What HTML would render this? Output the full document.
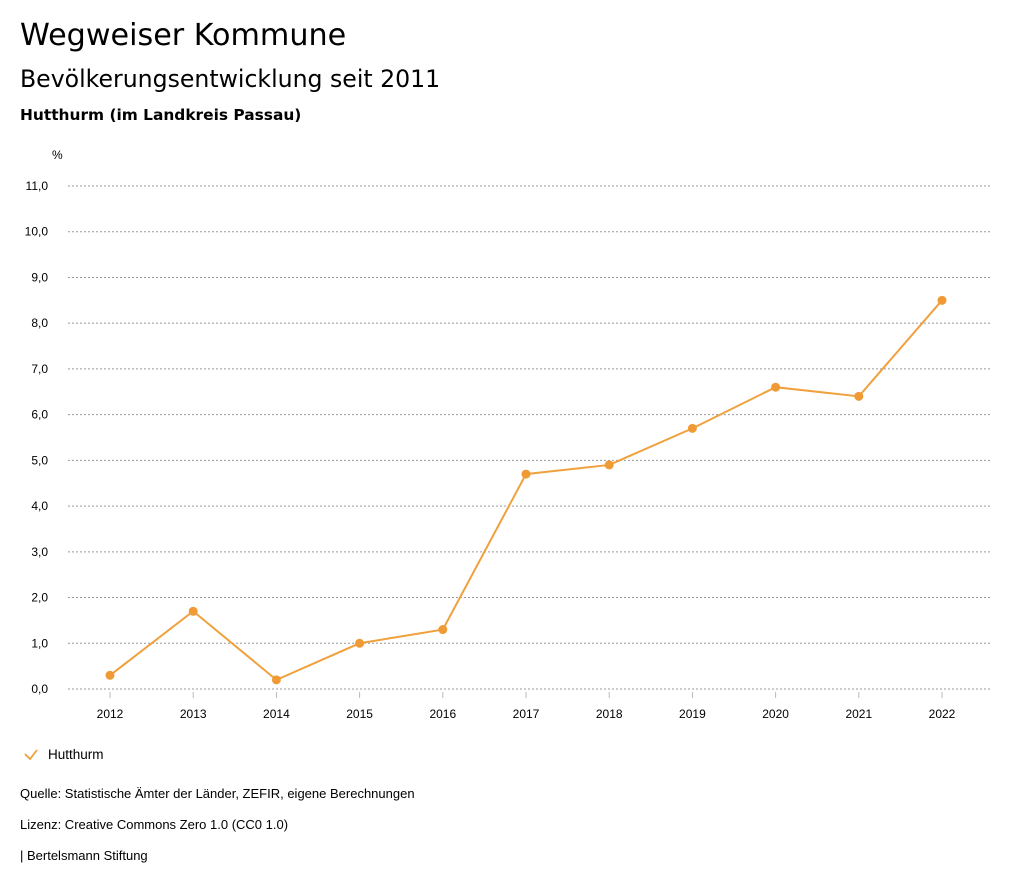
<!DOCTYPE html>
<html><head><meta charset="utf-8">
<style>
body{margin:0;width:1024px;height:888px;background:#fff;font-family:"Liberation Sans",sans-serif;color:#000;position:relative;overflow:hidden}
.t{position:absolute;left:20px;white-space:nowrap}
</style></head><body>
<div class="t" style="top:18px;font-family:'DejaVu Sans',sans-serif;font-size:30.2px">Wegweiser Kommune</div>
<div class="t" style="top:65px;font-family:'DejaVu Sans',sans-serif;font-size:23.6px">Bevölkerungsentwicklung seit 2011</div>
<div class="t" style="top:106px;font-family:'DejaVu Sans',sans-serif;font-size:15.4px;font-weight:bold">Hutthurm (im Landkreis Passau)</div>
<svg id="chart" width="1024" height="888" style="position:absolute;left:0;top:0"></svg>
<div class="t" style="top:786px;font-size:13px">Quelle: Statistische Ämter der Länder, ZEFIR, eigene Berechnungen</div>
<div class="t" style="top:817px;font-size:13px">Lizenz: Creative Commons Zero 1.0 (CC0 1.0)</div>
<div class="t" style="top:848px;font-size:13px">| Bertelsmann Stiftung</div>
<script>
const years=["2012","2013","2014","2015","2016","2017","2018","2019","2020","2021","2022"];
const values=[0.3,1.7,0.2,1.0,1.3,4.7,4.9,5.7,6.6,6.4,8.5];
const yTicks=[0,1,2,3,4,5,6,7,8,9,10,11];
const NS="http://www.w3.org/2000/svg";
const svg=document.getElementById('chart');
const y0=689,y11=186,x0=110,x1=942;
const yS=v=>y0-(y0-y11)*v/11;
const xS=i=>x0+(x1-x0)*i/(years.length-1);
function mk(t,a,p){const e=document.createElementNS(NS,t);for(const k in a)e.setAttribute(k,a[k]);(p||svg).appendChild(e);return e;}
const u=mk('text',{x:52,y:159,'font-size':12,'font-family':'Liberation Sans, sans-serif'});u.textContent='%';


yTicks.forEach(v=>{
 const l=mk('line',{x1:68,x2:990,y1:yS(v),y2:yS(v),stroke:'#999','stroke-width':1,'stroke-dasharray':'2,2'});
 
 
 const t=mk('text',{x:48,y:yS(v)+4,'text-anchor':'end','font-size':12,'font-family':'Liberation Sans, sans-serif'});
 t.textContent=v.toFixed(1).replace('.',',');
 
 
});
years.forEach((yr,i)=>{
 const tk=mk('line',{x1:xS(i),x2:xS(i),y1:y0+3,y2:y0+9,stroke:'#bbb'});
 
 
 const t=mk('text',{x:xS(i),y:718,'text-anchor':'middle','font-size':12,'font-family':'Liberation Sans, sans-serif'});
 t.textContent=yr;
 
 
});
const pl=mk('polyline',{points:values.map((v,i)=>xS(i)+','+yS(v)).join(' '),fill:'none',stroke:'#f0a03c','stroke-width':2});


values.forEach((v,i)=>{
 const c=mk('circle',{cx:xS(i),cy:yS(v),r:4.5,fill:'#ef9a35'});
 
 
});
const lg=mk('g',{});


mk('polyline',{points:'25,754 30,759 37,750',fill:'none',stroke:'#f0a03c','stroke-width':1.8},lg);
const lt=mk('text',{x:48,y:759,'font-size':13.5,'font-family':'Liberation Sans, sans-serif'},lg);lt.textContent='Hutthurm';
</script>
</body></html>
